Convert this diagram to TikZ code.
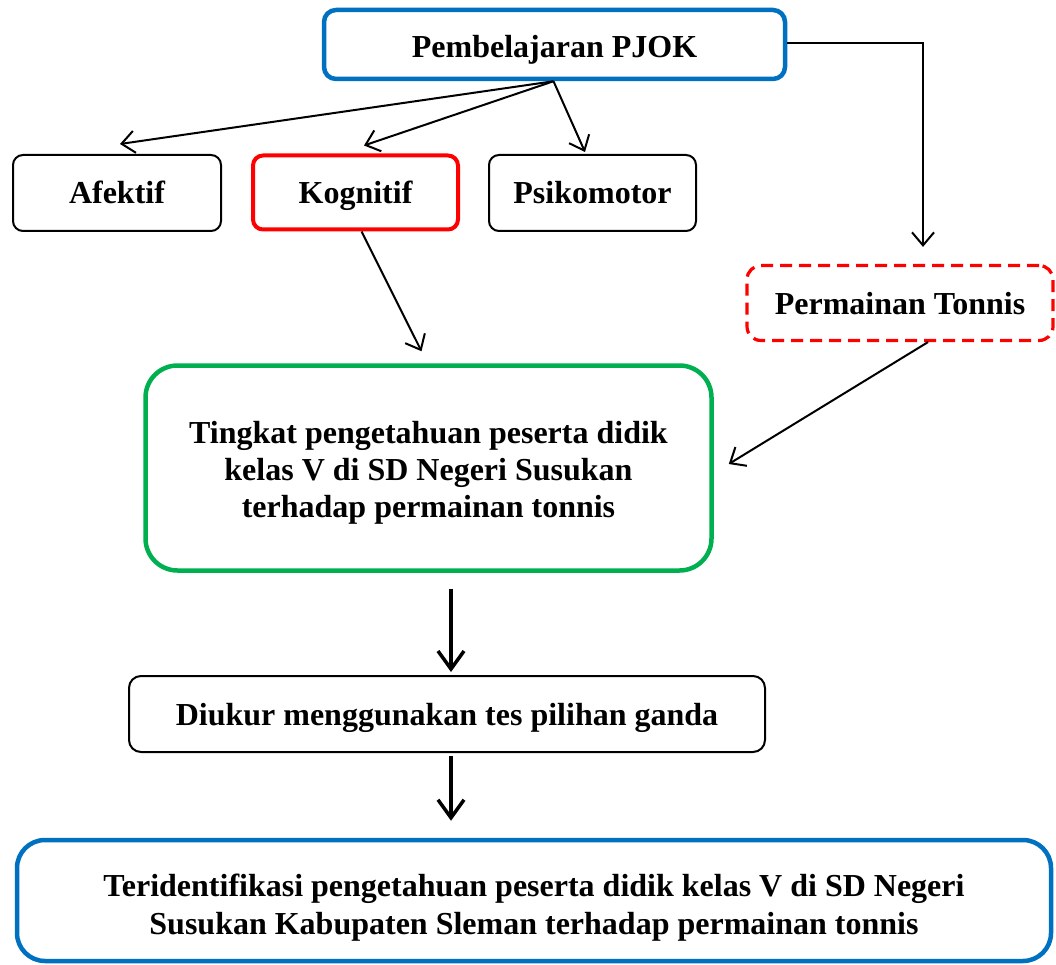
\documentclass[tikz,border=0pt]{standalone}
\usepackage{fontspec}
\setmainfont{Liberation Serif}
\usetikzlibrary{arrows.meta}
\definecolor{myblue}{RGB}{0,112,192}
\definecolor{myred}{RGB}{255,0,0}
\definecolor{mygreen}{RGB}{0,176,80}
\begin{document}
\begin{tikzpicture}[x=1pt,y=-1pt,
  every node/.style={font=\fontsize{32}{38}\selectfont\bfseries, inner sep=0pt},
  box/.style={draw, rounded corners=#1, line width=2pt},
  box/.default=10pt,
  oneline/.style={text height=27pt, text depth=5pt},
  thinarrow/.style={draw, line width=2pt, -{Straight Barb[length=13pt,width=22pt,line width=2pt]}},
  thickarrow/.style={draw, line width=3.5pt, -{Straight Barb[length=18pt,width=26pt,line width=3.5pt]}}
]
\useasboundingbox (0,0) rectangle (1056,965);
\node[box=12pt, text height=30pt, text depth=3pt, draw=myblue, line width=4.5pt, minimum width=461pt, minimum height=69pt] (pjok) at (554.5,44.5) {Pembelajaran PJOK};
\node[box, oneline, minimum width=208pt, minimum height=76pt] (afektif) at (117,193) {Afektif};
\node[box, oneline, draw=myred, line width=4pt, minimum width=205pt, minimum height=74pt] (kognitif) at (355.5,192.5) {Kognitif};
\node[box, oneline, minimum width=207pt, minimum height=76pt] (psiko) at (592.5,193) {Psikomotor};
\node[box=14pt, oneline, draw=myred, line width=3.2pt, dash pattern=on 12pt off 7pt, minimum width=306pt, minimum height=75pt] (tonnis) at (900,303) {Permainan Tonnis};
\node[box=32pt, draw=mygreen, line width=4.5pt, minimum width=566pt, minimum height=205pt, font=\fontsize{32}{37}\selectfont\bfseries] (green) at (428.5,468) {\raisebox{-5pt}[\height][\depth]{\begin{tabular}{@{}c@{}}Tingkat pengetahuan peserta didik\\kelas V di SD Negeri Susukan\\terhadap permainan tonnis\end{tabular}}};
\node[box=12pt, oneline, minimum width=636pt, minimum height=76pt] (diukur) at (447,714) {Diukur menggunakan tes pilihan ganda};
\node[box=28pt, draw=myblue, line width=4.5pt, minimum width=1034pt, minimum height=121pt] (final) at (534,900.5) {\raisebox{-7pt}[\height][\depth]{\begin{tabular}{@{}c@{}}Teridentifikasi pengetahuan peserta didik kelas V di SD Negeri\\Susukan Kabupaten Sleman terhadap permainan tonnis\end{tabular}}};

\path[thinarrow] ([xshift=-1pt]pjok.south) -- ([shift={(3,-10)}]afektif.north);
\path[thinarrow] ([xshift=-1pt]pjok.south) -- ([shift={(8.5,-8)}]kognitif.north);
\path[thinarrow] ([xshift=-1pt]pjok.south) -- ([shift={(-7.5,-2)}]psiko.north);
\path[thinarrow] ([yshift=1.5pt]pjok.east) -| ([shift={(23,-17)}]tonnis.north);
\path[thinarrow] ([xshift=6pt]kognitif.south) -- ([shift={(-7,-12)}]green.north);
\path[thinarrow] ([xshift=28pt]tonnis.south) -- ([shift={(15,-4)}]green.east);
\path[thickarrow] ([shift={(22.5,16)}]green.south) -- ([shift={(4,-3)}]diukur.north);
\path[thickarrow] ([shift={(4,3)}]diukur.south) -- ([shift={(-83,-17)}]final.north);
\end{tikzpicture}
\end{document}
